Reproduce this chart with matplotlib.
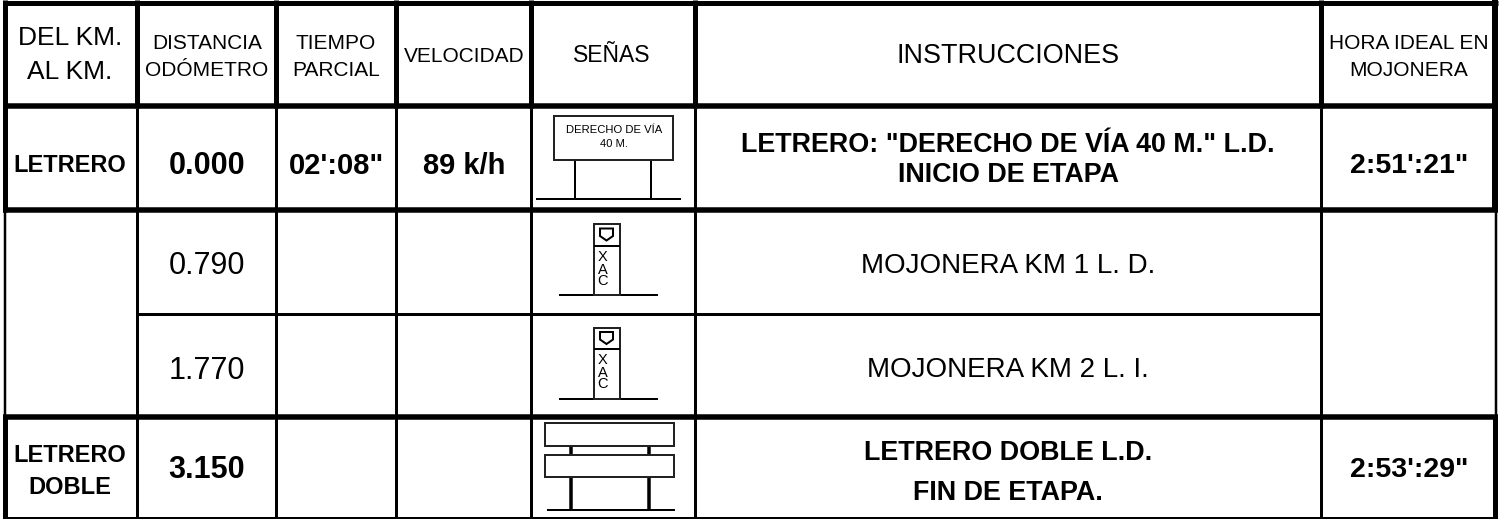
import matplotlib
matplotlib.use('Agg')
import matplotlib.pyplot as plt
from matplotlib.patches import Rectangle, Polygon

plt.rcParams['font.family'] = ['Liberation Sans', 'DejaVu Sans']

# table contents
headers = ['DEL KM.\nAL KM.', 'DISTANCIA\nODÓMETRO', 'TIEMPO\nPARCIAL', 'VELOCIDAD',
           'SEÑAS', 'INSTRUCCIONES', 'HORA IDEAL EN\nMOJONERA']
first_col = ['LETRERO', '', '', 'LETRERO\nDOBLE']
distances = ['0.000', '0.790', '1.770', '3.150']
times = ["02':08\"", '', '', '']
speeds = ['89 k/h', '', '', '']
instructions = ['LETRERO: "DERECHO DE VÍA 40 M." L.D.\nINICIO DE ETAPA',
                'MOJONERA KM 1 L. D.',
                'MOJONERA KM 2 L. I.',
                'LETRERO DOBLE L.D.\nFIN DE ETAPA.']
ideal_times = ["2:51':21\"", '', '', "2:53':29\""]
sign_text = 'DERECHO DE VÍA\n40 M.'
post_text = ['X', 'A', 'C']

W, H = 1503, 519
PX = 0.72  # one pixel in points at dpi 100

col_x = [136.5, 275.5, 396, 530.5, 694.5, 1321]
col_mid = [70, 207, 336, 464, 612, 1008, 1409]
row_mid = [57, 166, 266, 371, 470]
instr_y = [160, 266, 370, 473]
instr_gap = [1.2, 1, 1, 1.7]


def hline(ax, y, x0, x1, lw, z=2):
    ax.plot([x0, x1], [y, y], color='black', lw=lw * PX, solid_capstyle='butt', zorder=z)


def vline(ax, x, y0, y1, lw):
    ax.plot([x, x], [y0, y1], color='black', lw=lw * PX, solid_capstyle='butt')


def label(ax, x, y, s, size, bold=False, spacing=1.5):
    ax.text(x, y, s, fontsize=size, ha='center', va='center', color='black',
            fontweight='bold' if bold else 'normal', linespacing=spacing, zorder=5)


def box(ax, x0, y0, x1, y1, lw=2.0):
    ax.add_patch(Rectangle((x0, y0), x1 - x0, y1 - y0, fc='white', ec='#222222',
                           lw=lw * PX, zorder=3))


def post_sign(ax, dy):
    hline(ax, 295 + dy, 559, 658, 2)
    box(ax, 594, 224 + dy, 619.5, 295 + dy)
    hline(ax, 245.5 + dy, 594, 619.5, 2, z=4)
    ax.add_patch(Polygon([(600, 228.5 + dy), (613, 228.5 + dy), (613, 236 + dy),
                          (606.5, 240.5 + dy), (600, 236 + dy)],
                         closed=True, fc='white', ec='black', lw=2 * PX, zorder=4))
    for ch, y in zip(post_text, [257, 269.5, 281]):
        label(ax, 603, y + dy, ch, 10.5)


fig = plt.figure(figsize=(W / 100, H / 100), dpi=100)
ax = fig.add_axes([0, 0, 1, 1])
ax.set_xlim(0, W)
ax.set_ylim(H, 0)
ax.axis('off')

# horizontal rules
hline(ax, 2.5, 2.5, 1498, 5)
hline(ax, 105.5, 2.5, 1498, 5.5)
hline(ax, 209.5, 2.5, 1498, 5.5)
hline(ax, 313.5, 136, 1321, 3)
hline(ax, 416.7, 2.5, 1497.5, 5.5)
hline(ax, 517.7, 2.5, 1497.5, 2)

# outer edges
vline(ax, 5, 0, 212, 5)
vline(ax, 4.5, 212, 415, 2.5)
vline(ax, 5, 415, 519, 5)
vline(ax, 1495, 0, 212, 6)
vline(ax, 1495.8, 212, 415, 2.5)
vline(ax, 1495, 415, 519, 5)

# column rules, heavier in the header row
for x in col_x:
    vline(ax, x, 0, 108, 5)
    vline(ax, x, 108, 519, 3)

# header
for i, s in enumerate(headers):
    size = 15
    y = row_mid[0]
    if i == 0:
        size = 19
        y = 55
    if i == 4:
        size = 16.5
        y = 56
    if i == 5:
        size = 19.4
        y = 56
    label(ax, col_mid[i], y, s, size)

# rows
for r in range(4):
    y = row_mid[r + 1]
    bold = r in (0, 3)
    if first_col[r]:
        label(ax, col_mid[0], y + 1 if r == 3 else y - 1, first_col[r], 17, True, 1.5)
    label(ax, col_mid[1], y, distances[r], 22, bold)
    if times[r]:
        label(ax, col_mid[2], y, times[r], 21, True)
    if speeds[r]:
        label(ax, col_mid[3], y, speeds[r], 21, True)
    label(ax, col_mid[5], instr_y[r], instructions[r], 19.4 if bold else 20, bold, instr_gap[r])
    if ideal_times[r]:
        label(ax, col_mid[6], y, ideal_times[r], 20.5, True)

# signs
hline(ax, 198.5, 536, 681, 2)
vline(ax, 574.5, 160, 198, 2)
vline(ax, 651, 160, 198, 2)
box(ax, 553.5, 116, 672.5, 160)
label(ax, 614, 137, sign_text, 8.1, spacing=1.45)
post_sign(ax, 0)
post_sign(ax, 103.5)
hline(ax, 510, 547, 675, 2)
vline(ax, 571, 445, 510, 3.5)
vline(ax, 648.7, 445, 510, 3.5)
box(ax, 545, 423, 674, 445.5)
box(ax, 545, 455, 674, 477)

fig.savefig('out.png', dpi=100)
